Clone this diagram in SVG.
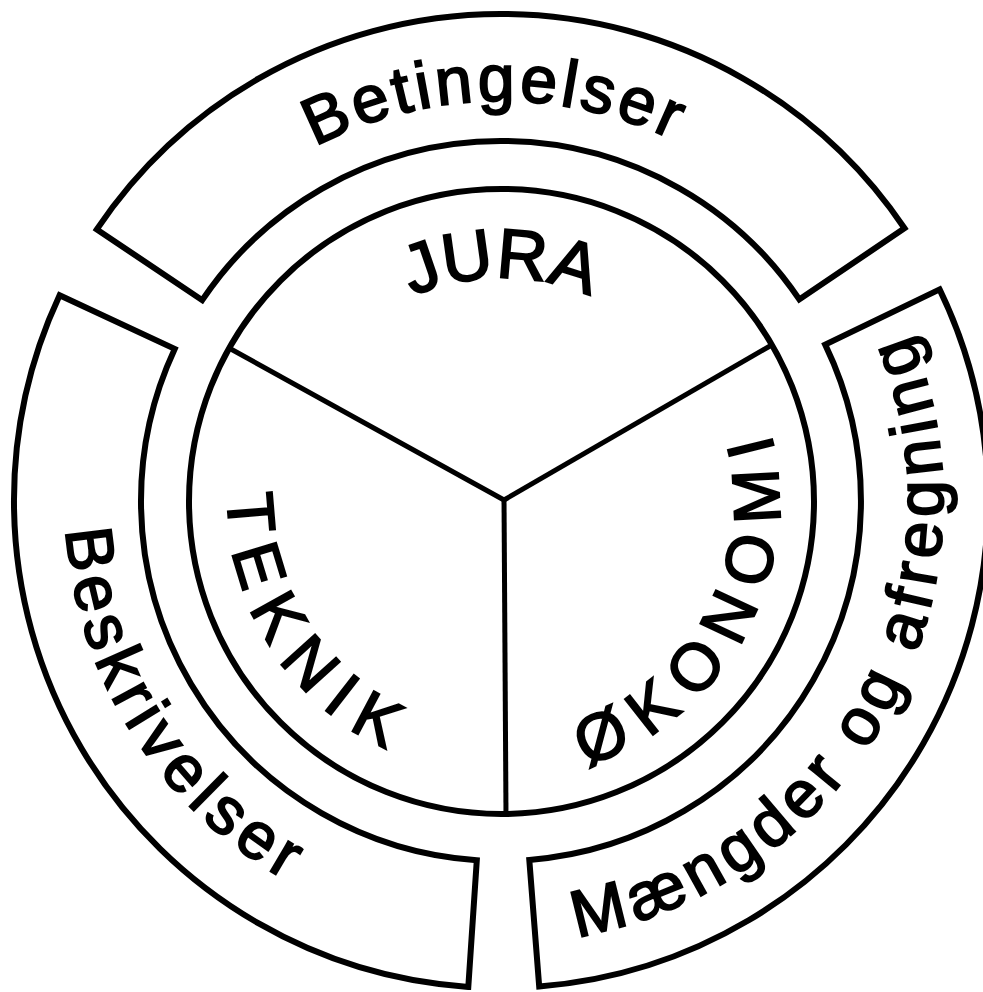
<svg xmlns="http://www.w3.org/2000/svg" xmlns:xlink="http://www.w3.org/1999/xlink" width="983" height="992" viewBox="0 0 983 992">
  <style>
    .band { fill: #ffffff; stroke: #000000; stroke-width: 6; stroke-linejoin: miter; }
    .ring { fill: #ffffff; stroke: #000000; stroke-width: 6; }
    .div { stroke: #000000; stroke-width: 5; fill: none; stroke-linecap: butt; }
    .outer { font-family: "Liberation Sans", Arial, Helvetica, sans-serif; font-size: 66px; fill: #000000; stroke: #000000; stroke-width: 2px; }
    .inner { font-family: "Liberation Sans", Arial, Helvetica, sans-serif; font-size: 66px; fill: #000000; stroke: #000000; stroke-width: 2px; }
  </style>
  <defs>
    <path id="pBetingelser" d="M 101,501 A 400,400 0 0 1 901,501"/>
    <path id="pBeskrivelser" d="M 283,123.4 A 436,436 0 0 0 719,878.6"/>
    <path id="pMaengder" d="M 280,884 A 442,442 0 0 0 722,118"/>
    <path id="pJura" d="M 278,501 A 223,223 0 0 1 724,501"/>
    <path id="pTeknik" d="M 363,262 A 276,276 0 0 0 639,740"/>
    <path id="pOkonomi" d="M 362,741.8 A 278,278 0 0 0 640,260.2"/>
  </defs>

  <g id="betingelser">
    <path class="band" d="M 96.8,229.4 A 487,487 0 0 1 904.5,228.3 L 799.3,299.4 A 360,360 0 0 0 202.2,300.2 Z"/>
    <text class="outer" style="letter-spacing:4px" text-anchor="middle"><textPath xlink:href="#pBetingelser" href="#pBetingelser" startOffset="49.5%">Betingelser</textPath></text>
  </g>

  <g id="maengder-og-afregning">
    <path class="band" d="M 939.6,289.4 A 487,487 0 0 1 539.2,986.5 L 529.3,859.9 A 360,360 0 0 0 825.2,344.6 Z"/>
    <text class="outer" style="letter-spacing:6.4px" text-anchor="middle"><textPath xlink:href="#pMaengder" href="#pMaengder" startOffset="50.8%">Mængder og afregning</textPath></text>
  </g>

  <g id="beskrivelser">
    <path class="band" d="M 468.3,986.9 A 487,487 0 0 1 59.6,295.2 L 174.7,348.9 A 360,360 0 0 0 476.8,860.2 Z"/>
    <text class="outer" style="letter-spacing:6.5px" text-anchor="middle"><textPath xlink:href="#pBeskrivelser" href="#pBeskrivelser" startOffset="51.4%">Beskrivelser</textPath></text>
  </g>

  <g id="inner-circle">
    <circle class="ring" cx="501.5" cy="501.5" r="312.5"/>
  </g>

  <g id="connectors">
    <line class="div" x1="504" y1="500" x2="229" y2="348"/>
    <line class="div" x1="504" y1="500" x2="770" y2="346"/>
    <line class="div" x1="504" y1="498" x2="506" y2="816"/>
  </g>

  <g id="jura">
    <text class="inner" style="font-size:70px;letter-spacing:0px" text-anchor="middle"><textPath xlink:href="#pJura" href="#pJura" startOffset="50%">JURA</textPath></text>
  </g>

  <g id="teknik">
    <text class="inner" style="letter-spacing:15.8px" text-anchor="middle"><textPath xlink:href="#pTeknik" href="#pTeknik" startOffset="52%">TEKNIK</textPath></text>
  </g>

  <g id="okonomi">
    <text class="inner" style="letter-spacing:16.5px" text-anchor="middle"><textPath xlink:href="#pOkonomi" href="#pOkonomi" startOffset="51.5%">ØKONOMI</textPath></text>
  </g>
</svg>
